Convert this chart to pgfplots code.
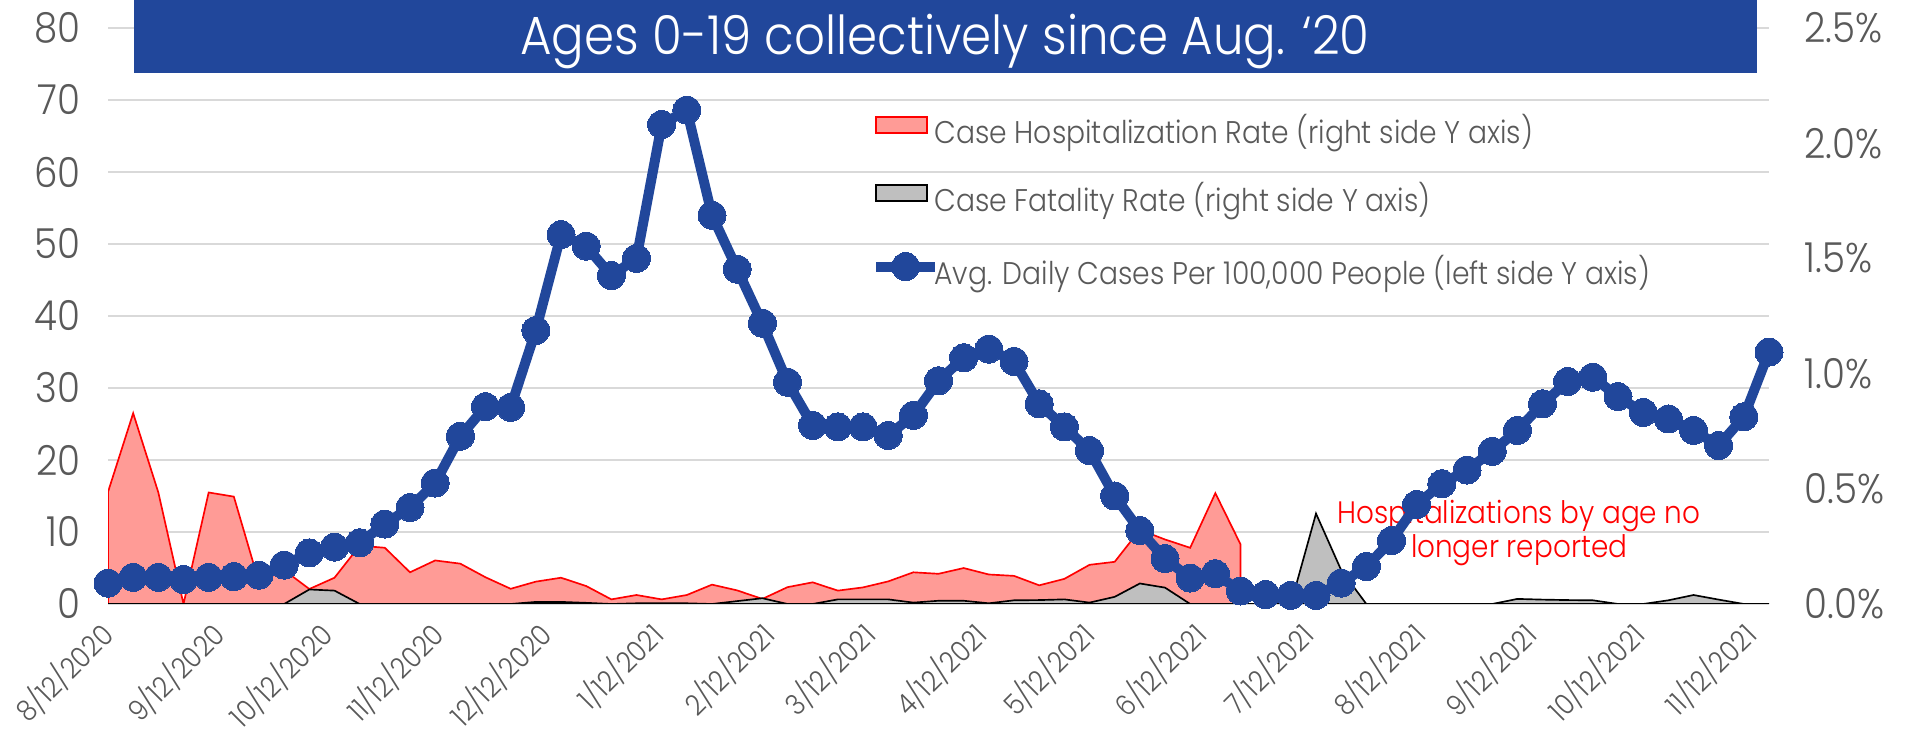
\documentclass[border=0pt]{standalone}
\usepackage{fontspec}
\setmainfont{Poppins Light}[FakeStretch=0.9]
\usepackage{pgfplots}
\pgfplotsset{compat=1.18}
\usepackage{pgfplotstable}
\definecolor{cblue}{RGB}{33,71,155}
\definecolor{cpink}{RGB}{255,155,150}
\definecolor{cgreyfill}{RGB}{191,191,191}
\definecolor{cgrid}{RGB}{217,217,217}
\definecolor{ctext}{RGB}{89,89,89}

\pgfplotstableread{
day cases
0 2.9
7 3.7
14 3.7
21 3.4
28 3.7
35 3.8
42 4.0
49 5.4
56 7.1
63 7.9
70 8.5
77 11.1
84 13.4
91 16.8
98 23.3
105 27.4
112 27.3
119 38.0
126 51.3
133 49.7
140 45.6
147 48.0
154 66.6
161 68.6
168 54.0
175 46.5
182 39.0
189 30.8
196 24.8
203 24.6
210 24.6
217 23.4
224 26.2
231 31.0
238 34.2
245 35.4
252 33.7
259 27.8
266 24.6
273 21.3
280 15.0
287 10.2
294 6.3
301 3.6
308 4.2
315 1.8
322 1.3
329 1.2
336 1.2
343 2.9
350 5.2
357 8.8
364 13.8
371 16.7
378 18.6
385 21.2
392 24.1
399 27.8
406 30.9
413 31.5
420 28.8
427 26.6
434 25.7
441 24.1
448 22.0
455 26.0
462 35.0
}\cases

\pgfplotstableread{
day v
0 0.486
7 0.828
14 0.484
21 0
28 0.484
35 0.466
42 0.094
49 0.147
56 0.065
63 0.114
70 0.253
77 0.244
84 0.1375
91 0.189
98 0.175
105 0.116
112 0.066
119 0.097
126 0.114
133 0.078
140 0.020
147 0.039
154 0.020
161 0.039
168 0.084
175 0.059
182 0.022
189 0.073
196 0.094
203 0.058
210 0.072
217 0.098
224 0.1375
231 0.131
238 0.156
245 0.128
252 0.122
259 0.081
266 0.109
273 0.170
280 0.183
287 0.322
294 0.280
301 0.244
308 0.481
315 0.259
}\hosp

\pgfplotstableread{
day v
0 0
7 0
14 0
21 0
28 0
35 0
42 0
49 0
56 0.063
63 0.058
70 0
77 0
84 0
91 0
98 0
105 0
112 0
119 0.009
126 0.009
133 0.005
140 0
147 0.003
154 0.003
161 0.003
168 0
175 0.0125
182 0.025
189 0
196 0
203 0.02
210 0.02
217 0.02
224 0.006
231 0.014
238 0.014
245 0.003
252 0.016
259 0.017
266 0.02
273 0.006
280 0.031
287 0.089
294 0.071
301 0
308 0
315 0
322 0
329 0
336 0.3925
343 0.147
350 0
357 0
364 0
371 0
378 0
385 0
392 0.022
399 0.019
406 0.017
413 0.016
420 0
427 0
434 0.016
441 0.039
448 0.019
455 0
462 0
}\fatal

\pgfplotsset{
  base/.style={
    at={(32.4pt,40.2pt)}, anchor=south west, scale only axis,
    width=498.3pt, height=172.8pt,
    xmin=0, xmax=462,
    /pgf/number format/assume math mode=true,
  },
  boxlegend/.style={legend image code/.code={\draw[##1] (0pt,0.7pt) rectangle (15.3pt,5.5pt);}},
  linelegend/.style={legend image code/.code={\draw[##1, mark repeat=2, mark phase=2] plot coordinates {(0pt,3.1pt) (8.85pt,3.1pt) (17.7pt,3.1pt)};}},
}

\begin{document}
\begin{tikzpicture}
\useasboundingbox (0,0) rectangle (571.8pt,221.4pt);

% left axis: grid, left labels, dates
\begin{axis}[base,
  ymin=0, ymax=80, ytick={0,10,20,30,40,50,60,70,80},
  axis line style={draw=none},
  major tick length=0pt,
  ymajorgrids, grid style={draw=cgrid, line width=0.6pt},
  xtick={0,31,61,92,122,153,184,212,243,273,304,334,365,396,426,457},
  xticklabels={8/12/2020,9/12/2020,10/12/2020,11/12/2020,12/12/2020,1/12/2021,2/12/2021,3/12/2021,4/12/2021,5/12/2021,6/12/2021,7/12/2021,8/12/2021,9/12/2021,10/12/2021,11/12/2021},
  xticklabel style={xshift=0pt, yshift=-7.5pt, rotate=45, anchor=east, inner sep=0pt,
    font=\fontsize{8.6}{10}\selectfont, text=ctext},
  yticklabel style={inner sep=0pt, xshift=-8pt, font=\fontsize{12.4}{14}\selectfont, text=ctext},
]
\end{axis}

% right axis: rates
\begin{axis}[base,
  ymin=0, ymax=2.5, ytick={0,0.5,1,1.5,2,2.5},
  yticklabel pos=right,
  axis line style={draw=none},
  major tick length=0pt,
  xtick=\empty,
  yticklabel={\pgfmathprintnumber[fixed,fixed zerofill,precision=1]{\tick}\%},
  yticklabel style={inner sep=0pt, xshift=10.5pt, font=\fontsize{12.4}{14}\selectfont, text=ctext},
]
\addplot[fill=cpink, draw=red, line width=0.5pt] table[x=day,y=v]{\hosp} \closedcycle;
\addplot[fill=cgreyfill, draw=black, line width=0.5pt] table[x=day,y=v]{\fatal} \closedcycle;
\node[anchor=base, text=red, font=\fontsize{9.3}{11}\selectfont] at (axis cs:392.5,0.351) {Hospitalizations by age no};
\node[anchor=base, text=red, font=\fontsize{9.3}{11}\selectfont] at (axis cs:392.5,0.203) {longer reported};
\end{axis}

% cases line + legend
\begin{axis}[base,
  ymin=0, ymax=80, hide axis, clip=false,
  legend cell align=left,
  legend style={draw=none, fill=none, at={(0.459,0.848)}, anchor=north west,
    font=\fontsize{9.4}{11}\selectfont, text=ctext, row sep=9.95pt, column sep=-1.7pt,
    inner sep=0pt, nodes={inner sep=0pt, text height=7pt, text depth=2.4pt}},
]
\addlegendimage{boxlegend, fill=cpink, draw=red, line width=0.6pt}
\addlegendentry{Case Hospitalization Rate (right side Y axis)}
\addlegendimage{boxlegend, fill=cgreyfill, draw=black, line width=0.6pt}
\addlegendentry{Case Fatality Rate (right side Y axis)}
\addplot[cblue, line width=3pt, mark=*, mark size=4.2pt,
  mark options={fill=cblue, draw=cblue, line width=0pt}, linelegend]
  table[x=day,y=cases]{\cases};
\addlegendentry{Avg. Daily Cases Per 100,000 People (left side Y axis)}
\end{axis}

\fill[cblue] (40.2pt,199.5pt) rectangle (527.1pt,221.4pt);
\node[anchor=base, text=white, font=\fontsize{16.1}{19}\selectfont, inner sep=0pt] at (283.5pt,205.0pt) {Ages 0-19 collectively since Aug. ‘20};
\end{tikzpicture}
\end{document}
